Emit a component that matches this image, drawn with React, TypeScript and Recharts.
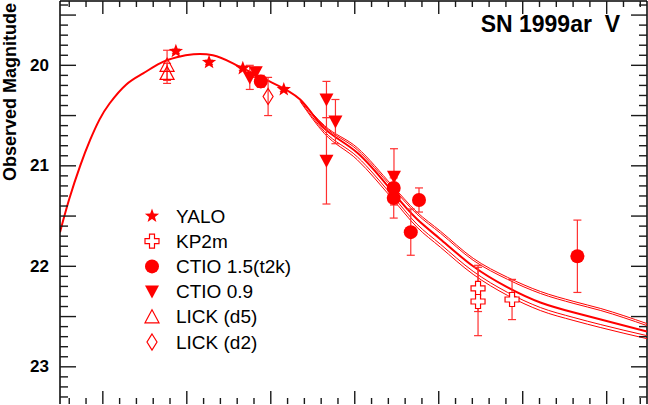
import React from 'react';
import { ComposedChart, Line, Scatter, XAxis, YAxis, ErrorBar, ReferenceLine } from 'recharts';

const RED = '#ff0000';
const FONT = '"Liberation Sans", Arial, Helvetica, sans-serif';

// axis ranges (days, observed V mag)
const X_MIN = -15.1;
const X_MAX = 54.8;
const Y_MIN = 19.36;
const Y_MAX = 23.37;
const yLabels = [20, 21, 22, 23];
const xTicks = Array.from({ length: 35 }, (_, i) => -14 + i * 2);
const yTicks = Array.from({ length: 40 }, (_, i) => +(19.4 + i * 0.1).toFixed(1));

// template fit
const fitDay = [-15.1, -14, -12.7, -11.5, -10.4, -9.2, -7.2, -5.2, -3.2, -1.2, 0.8, 3.1, 5.5, 9.6, 13.5, 16.4, 20.3, 24.4, 27.4, 30.2, 34.1, 38.2, 42.1, 46.1, 49.3, 54.8];
const fitMag = [21.66, 21.33, 21.0, 20.74, 20.54, 20.38, 20.19, 20.08, 19.98, 19.92, 19.89, 19.9, 19.98, 20.15, 20.34, 20.63, 20.87, 21.25, 21.53, 21.73, 22.0, 22.21, 22.36, 22.46, 22.53, 22.65];

// fit uncertainty curves (split off after ~day 13)
const bandDay = [13.5, 16.4, 20.3, 24.4, 27.4, 30.2, 34.1, 38.2, 42.1, 46.1, 49.3, 54.8];
const bandUpA = [20.34, 20.6, 20.82, 21.19, 21.46, 21.65, 21.92, 22.11, 22.25, 22.35, 22.42, 22.57];
const bandUpB = [20.34, 20.61, 20.84, 21.21, 21.48, 21.67, 21.94, 22.13, 22.27, 22.37, 22.44, 22.59];
const bandLoA = [20.35, 20.66, 20.91, 21.29, 21.58, 21.78, 22.05, 22.26, 22.41, 22.51, 22.58, 22.69];
const bandLoB = [20.36, 20.68, 20.94, 21.32, 21.61, 21.81, 22.08, 22.29, 22.44, 22.54, 22.61, 22.72];

// photometry: day, mag, error
const yaloDay = [-1.3, 2.65, 6.67, 11.55];
const yaloMag = [19.86, 19.97, 20.03, 20.24];
const yaloErr = [0.02, 0.02, 0.02, 0.02];

const kpDay = [34.68, 34.68, 38.73];
const kpMag = [22.22, 22.35, 22.33];
const kpErr = [0.23, 0.34, 0.2];

const ctio15Day = [8.81, 24.64, 24.64, 27.65, 26.67, 46.51];
const ctio15Mag = [20.16, 21.22, 21.32, 21.34, 21.66, 21.9];
const ctio15Err = [0.06, 0.12, 0.2, 0.12, 0.23, 0.36];

const ctio09Day = [7.5, 8.21, 16.63, 17.7, 16.63, 24.67];
const ctio09Mag = [20.12, 20.07, 20.34, 20.56, 20.95, 21.11];
const ctio09Err = [0.12, 0.05, 0.18, 0.22, 0.43, 0.28];

const lickD5Day = [-2.35, -2.35];
const lickD5Mag = [20.0, 20.08];
const lickD5Err = [0.15, 0.1];

const lickD2Day = [9.68];
const lickD2Mag = [20.31];
const lickD2Err = [0.19];

const toPts = (d: number[], m: number[], e?: number[]) => d.map((x, i) => ({ x, m: m[i], e: e ? e[i] : 0 }));

// plot frame in page pixels
const PLOT_L = 60;
const PLOT_R = 647;
const PLOT_T = 1;
const PLOT_B = 404;

// frame tick positions (same linear mapping as the chart's axes)
const tx = (v: number) => PLOT_L + ((v - X_MIN) / (X_MAX - X_MIN)) * (PLOT_R - PLOT_L);
const ty = (m: number) => PLOT_T + ((m - Y_MIN) / (Y_MAX - Y_MIN)) * (PLOT_B - PLOT_T);
const yLen = (m: number) => (Math.round(m * 10) % 5 === 0 ? 16 : 8);
const xLen = (x: number) => (x % 10 === 0 ? 13 : 6);
const TICK = '#1a1a1a';

type Kind = 'star' | 'plus' | 'circle' | 'down' | 'up' | 'diamond';

function marker(kind: Kind, cx: number, cy: number) {
  if (kind === 'circle') return <circle cx={cx} cy={cy} r={7} fill={RED} />;
  if (kind === 'star') {
    const pts: string[] = [];
    for (let i = 0; i < 10; i++) {
      const r = i % 2 === 0 ? 7.5 : 3.1;
      const a = -Math.PI / 2 + (i * Math.PI) / 5;
      pts.push(`${cx + r * Math.cos(a)},${cy + r * Math.sin(a)}`);
    }
    return <polygon points={pts.join(' ')} fill={RED} />;
  }
  if (kind === 'down') return <polygon points={`${cx - 7},${cy - 6} ${cx + 7},${cy - 6} ${cx},${cy + 7}`} fill={RED} />;
  if (kind === 'up') return <polygon points={`${cx},${cy - 7} ${cx + 7},${cy + 6} ${cx - 7},${cy + 6}`} fill="none" stroke={RED} strokeWidth={1.2} />;
  if (kind === 'diamond') return <polygon points={`${cx},${cy - 8} ${cx + 5},${cy} ${cx},${cy + 8} ${cx - 5},${cy}`} fill="none" stroke={RED} strokeWidth={1.2} />;
  const a = 2.5, b = 7;
  const p = [
    [-a, -b], [a, -b], [a, -a], [b, -a], [b, a], [a, a], [a, b], [-a, b], [-a, a], [-b, a], [-b, -a], [-a, -a],
  ].map(([dx, dy]) => `${cx + dx},${cy + dy}`).join(' ');
  return <polygon points={p} fill="white" stroke={RED} strokeWidth={1.2} />;
}

const shape = (kind: Kind) => (props: any) => marker(kind, props.cx, props.cy);

function YLabel(props: any) {
  const { y, payload } = props;
  const v = payload.value;
  if (!yLabels.includes(v)) return <g />;
  return (
    <text x={49} y={y} textAnchor="end" dominantBaseline="central" fontWeight="bold" fontSize={17} fontFamily={FONT} fill="#000">
      {v}
    </text>
  );
}

const legendItems: { kind: Kind; label: string }[] = [
  { kind: 'star', label: 'YALO' },
  { kind: 'plus', label: 'KP2m' },
  { kind: 'circle', label: 'CTIO 1.5(t2k)' },
  { kind: 'down', label: 'CTIO 0.9' },
  { kind: 'up', label: 'LICK (d5)' },
  { kind: 'diamond', label: 'LICK (d2)' },
];

export default function App() {
  const errBar = <ErrorBar dataKey="e" direction="y" width={4} stroke="#ff3030" strokeWidth={1.2} />;
  return (
    <div style={{ position: 'absolute', left: 0, top: 0, width: 648, height: 405, background: '#fff', fontFamily: FONT }}>
      <ComposedChart width={648} height={405} margin={{ top: PLOT_T, right: 648 - PLOT_R, bottom: 405 - PLOT_B, left: 0 }}>
        <XAxis type="number" dataKey="x" domain={[X_MIN, X_MAX]} ticks={xTicks} interval={0} height={0}
          tick={false} tickLine={false} axisLine={{ stroke: '#000', strokeWidth: 1.5 }} allowDataOverflow />
        <YAxis type="number" dataKey="m" domain={[Y_MIN, Y_MAX]} reversed ticks={yTicks} interval={0} width={PLOT_L}
          tick={<YLabel />} tickLine={false} axisLine={{ stroke: '#000', strokeWidth: 1.5 }} allowDataOverflow />
        <ReferenceLine x={X_MAX} stroke="#000" strokeWidth={1.5} ifOverflow="visible" />
        <ReferenceLine y={Y_MIN} stroke="#000" strokeWidth={1.5} ifOverflow="visible" />

        <Line data={toPts(bandDay, bandUpA)} dataKey="m" type="monotone" stroke={RED} strokeWidth={1} dot={false} isAnimationActive={false} />
        <Line data={toPts(bandDay, bandUpB)} dataKey="m" type="monotone" stroke={RED} strokeWidth={1} dot={false} isAnimationActive={false} />
        <Line data={toPts(bandDay, bandLoA)} dataKey="m" type="monotone" stroke={RED} strokeWidth={1} dot={false} isAnimationActive={false} />
        <Line data={toPts(bandDay, bandLoB)} dataKey="m" type="monotone" stroke={RED} strokeWidth={1} dot={false} isAnimationActive={false} />
        <Line data={toPts(fitDay, fitMag)} dataKey="m" type="natural" stroke={RED} strokeWidth={2} dot={false} isAnimationActive={false} />

        <Scatter data={toPts(lickD5Day, lickD5Mag, lickD5Err)} shape={shape('up')} isAnimationActive={false}>{errBar}</Scatter>
        <Scatter data={toPts(lickD2Day, lickD2Mag, lickD2Err)} shape={shape('diamond')} isAnimationActive={false}>{errBar}</Scatter>
        <Scatter data={toPts(kpDay, kpMag, kpErr)} shape={shape('plus')} isAnimationActive={false}>{errBar}</Scatter>
        <Scatter data={toPts(ctio09Day, ctio09Mag, ctio09Err)} shape={shape('down')} isAnimationActive={false}>{errBar}</Scatter>
        <Scatter data={toPts(ctio15Day, ctio15Mag, ctio15Err)} shape={shape('circle')} isAnimationActive={false}>{errBar}</Scatter>
        <Scatter data={toPts(yaloDay, yaloMag, yaloErr)} shape={shape('star')} isAnimationActive={false}>{errBar}</Scatter>
      </ComposedChart>

      <svg width={648} height={405} style={{ position: 'absolute', left: 0, top: 0, pointerEvents: 'none' }}>
        <g fill={TICK} stroke="none">
          {yTicks.map((m) => (
            <g key={'y' + m}>
              <rect x={PLOT_L} y={ty(m) - 0.7} width={yLen(m)} height={1.4} />
              <rect x={PLOT_R - yLen(m)} y={ty(m) - 0.7} width={yLen(m)} height={1.4} />
            </g>
          ))}
          {xTicks.map((x) => (
            <g key={'x' + x}>
              <rect x={tx(x) - 0.7} y={PLOT_T} width={1.4} height={xLen(x)} />
              <rect x={tx(x) - 0.7} y={PLOT_B - xLen(x)} width={1.4} height={xLen(x)} />
            </g>
          ))}
        </g>
        <text x={620} y={32} textAnchor="end" fontWeight="bold" fontSize={23} fontFamily={FONT} fill="#000">
          {'SN 1999ar\u00a0\u00a0V'}
        </text>
        <text transform="translate(16,92) rotate(-90)" textAnchor="middle" fontWeight="bold" fontSize={18} fontFamily={FONT} fill="#000">
          Observed Magnitude
        </text>
        {legendItems.map((it, i) => {
          const cy = 216 + i * 25.2;
          return (
            <g key={it.label}>
              {marker(it.kind, 152, cy)}
              <text x={176} y={cy} dominantBaseline="central" fontSize={19} fontFamily={FONT} fill="#000">{it.label}</text>
            </g>
          );
        })}
      </svg>
    </div>
  );
}
